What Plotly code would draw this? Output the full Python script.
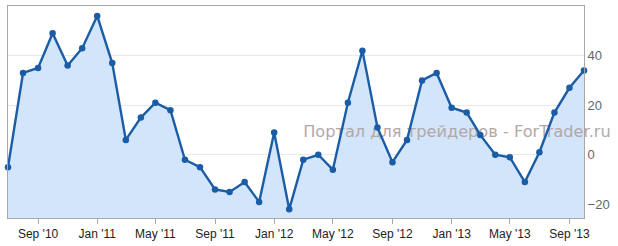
import pandas as pd
import plotly.graph_objects as go

dates = pd.date_range("2010-07-01", periods=40, freq="MS")
values = [-5, 33, 35, 49, 36, 43, 56, 37, 6, 15,
          21, 18, -2, -5, -14, -15, -11, -19, 9, -22,
          -2, 0, -6, 21, 42, 11, -3, 6, 30, 33,
          19, 17, 8, 0, -1, -11, 1, 17, 27, 34]
y_ticks = [-20, 0, 20, 40]
y_range = [-25.5, 60]
watermark = "Портал для трейдеров - ForTrader.ru"

line_color = "#1b5ca6"
fill_color = "#d2e5fb"

fig = go.Figure()
# baseline at the bottom of the plot so the area fills to the axis bottom
fig.add_trace(go.Scatter(x=dates, y=[y_range[0]] * len(dates), mode="lines",
                         line=dict(width=0), hoverinfo="skip", showlegend=False))
fig.add_trace(go.Scatter(x=dates, y=values, mode="lines", fill="tonexty",
                         fillcolor=fill_color, line=dict(width=0), showlegend=False))
fig.add_trace(go.Scatter(x=[pd.Timestamp("2013-01-12")], y=[9.0], mode="text",
                         text=[watermark], textposition="middle center",
                         textfont=dict(family="DejaVu Sans", size=16.2, color="#b3a8a8"),
                         cliponaxis=False, showlegend=False, hoverinfo="skip"))
fig.add_trace(go.Scatter(x=dates, y=values, mode="lines+markers",
                         line=dict(color=line_color, width=2.4),
                         marker=dict(color=line_color, size=6.5),
                         cliponaxis=False, showlegend=False))

fig.update_layout(
    width=618, height=246,
    margin=dict(l=8, r=34, t=5, b=25),
    paper_bgcolor="white", plot_bgcolor="white",
    xaxis=dict(
        range=[dates[0], dates[-1]],
        tick0="2010-09-01", dtick="M4", tickformat="%b '%y",
        ticks="outside", ticklen=5, tickcolor="#a8a8a8",
        showgrid=False, showline=True, linecolor="#a8a8a8", linewidth=1, mirror=True,
        tickfont=dict(family="Liberation Sans, Arial", size=12, color="#222"),
        zeroline=False,
    ),
    yaxis=dict(
        range=y_range, side="right", tickvals=y_ticks,
        showgrid=True, gridcolor="#e8e8e8", gridwidth=1,
        showline=True, linecolor="#a8a8a8", linewidth=1, mirror=True,
        ticks="", zeroline=False,
        tickfont=dict(family="Liberation Sans, Arial", size=13, color="#666"),
    ),
)

fig.write_html("out.html")
